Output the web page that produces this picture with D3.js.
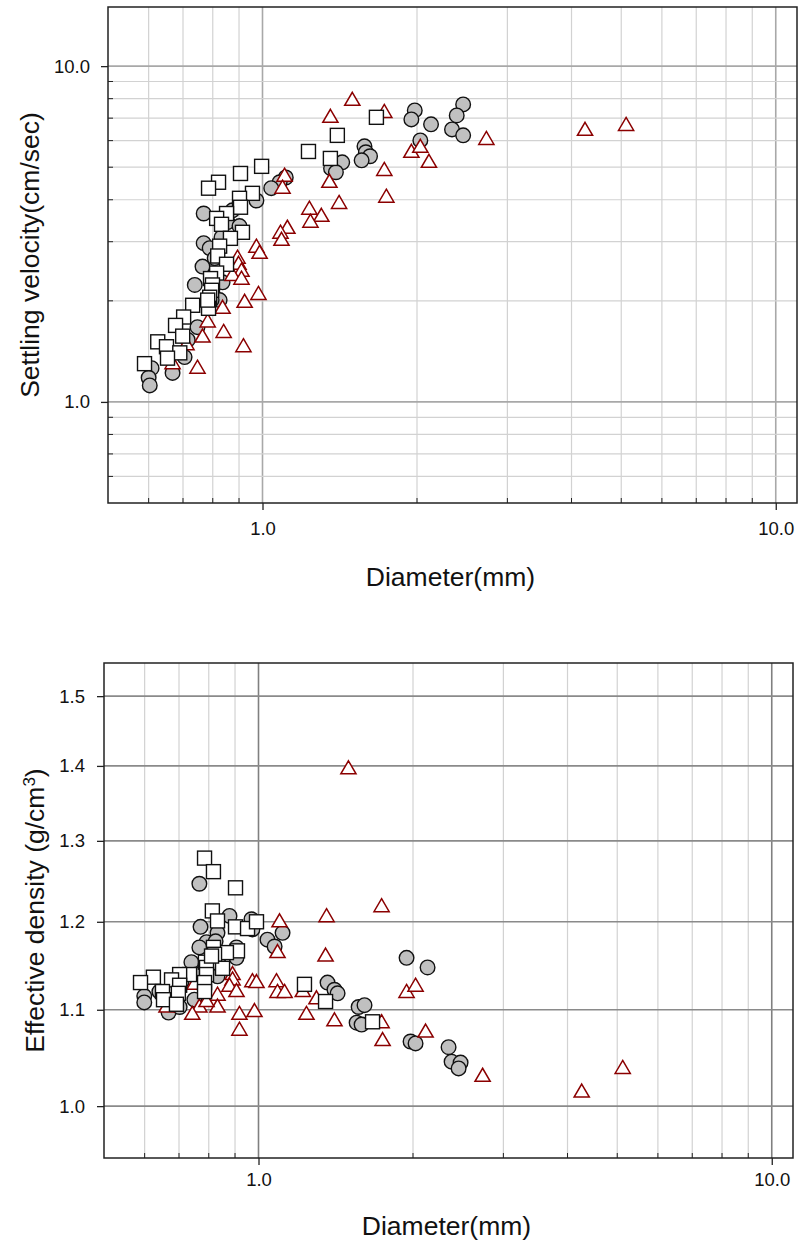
<!DOCTYPE html>
<html>
<head>
<meta charset="utf-8">
<script src="https://cdn.jsdelivr.net/npm/d3@7"></script>
<style>
  html, body { margin: 0; padding: 0; background: #fff; }
  svg { display: block; font-family: "Liberation Sans", Arial, sans-serif; }
</style>
</head>
<body>
<svg id="chart" width="799" height="1247"></svg>
<script>
// ---------- DATA ----------
// Top panel: settling velocity vs diameter
const topCircleD = [1.98,1.95,2.13,2.03,2.46,2.39,2.34,2.46,1.58,1.59,1.62,1.56,1.43,1.36,1.39,1.11,1.08,1.04,0.973,0.768,0.874,0.855,0.902,0.832,0.768,0.789,0.764,0.738,0.836,0.825,0.796,0.747,0.715,0.705,0.668,0.608,0.600,0.603,0.807];
const topCircleV = [7.38,6.94,6.71,6.01,7.69,7.13,6.48,6.22,5.77,5.54,5.39,5.24,5.17,4.96,4.83,4.66,4.51,4.33,3.98,3.64,3.72,3.43,3.34,3.09,2.97,2.87,2.53,2.23,2.27,2.01,2.01,1.67,1.53,1.36,1.22,1.26,1.18,1.12,2.68];
const topSquareD = [1.667,1.399,1.229,1.356,0.996,0.906,0.821,0.785,0.956,0.902,0.906,0.851,0.814,0.832,0.914,0.866,0.825,0.818,0.851,0.814,0.792,0.799,0.796,0.789,0.731,0.785,0.702,0.677,0.699,0.625,0.650,0.690,0.653,0.589,0.782];
const topSquareV = [7.04,6.22,5.57,5.31,5.03,4.79,4.51,4.33,4.18,4.04,3.80,3.64,3.52,3.38,3.20,3.07,2.91,2.72,2.57,2.42,2.33,2.23,2.15,2.05,1.94,1.90,1.79,1.69,1.57,1.51,1.46,1.40,1.35,1.30,2.01];
const topTriD = [1.496,1.356,1.727,1.727,1.743,1.95,2.03,2.11,2.73,4.25,5.11,1.35,1.41,1.234,1.302,1.24,1.104,1.094,1.118,1.084,1.089,0.973,0.987,0.894,0.898,0.910,0.874,0.910,0.982,0.923,0.836,0.782,0.840,0.764,0.918,0.747,0.668,0.711];
const topTriV = [7.91,7.04,7.28,4.89,4.07,5.54,5.73,5.17,6.05,6.44,6.66,4.51,3.90,3.75,3.57,3.43,4.70,4.33,3.29,3.18,3.03,2.89,2.77,2.68,2.57,2.45,2.38,2.32,2.09,1.98,1.90,1.73,1.61,1.56,1.46,1.26,1.30,1.48];

// Bottom panel: effective density vs diameter
const botCircleD = [1.943,2.135,1.978,2.023,2.346,2.378,2.476,2.454,1.114,1.041,1.075,0.969,0.973,0.878,0.832,0.767,0.771,0.792,0.767,0.825,0.906,0.906,0.740,0.832,0.708,0.757,0.599,0.599,0.668,0.702,0.750,0.641,1.363,1.406,1.426,1.567,1.609,1.553,1.588,0.839];
const botCircleR = [1.158,1.147,1.066,1.064,1.060,1.045,1.044,1.038,1.187,1.179,1.171,1.203,1.191,1.207,1.187,1.246,1.194,1.176,1.170,1.177,1.170,1.158,1.153,1.137,1.131,1.139,1.115,1.108,1.097,1.103,1.111,1.120,1.130,1.122,1.118,1.103,1.105,1.086,1.084,1.160];
const botSquareD = [0.785,0.817,0.902,0.813,0.832,0.902,0.952,0.991,0.910,0.866,0.817,0.821,0.788,0.792,0.851,0.792,0.734,0.702,0.677,0.624,0.589,0.702,0.785,0.650,0.698,0.785,0.653,0.692,1.229,1.351,1.668,0.810];
const botSquareR = [1.278,1.261,1.241,1.213,1.201,1.194,1.192,1.200,1.166,1.164,1.170,1.162,1.153,1.147,1.146,1.139,1.139,1.139,1.133,1.136,1.130,1.127,1.130,1.120,1.118,1.120,1.111,1.106,1.128,1.109,1.087,1.160];
const botTriD = [1.497,1.737,1.357,1.099,1.089,1.351,1.084,1.089,1.124,0.973,0.991,1.240,1.406,1.297,1.22,0.918,0.982,0.918,0.890,0.890,0.878,0.906,0.832,0.832,0.767,0.743,0.792,0.750,0.662,1.943,2.023,1.737,1.745,2.116,2.733,4.263,5.124];
const botTriR = [1.396,1.218,1.206,1.200,1.164,1.160,1.131,1.119,1.119,1.131,1.130,1.095,1.088,1.112,1.120,1.095,1.098,1.078,1.139,1.133,1.126,1.120,1.116,1.103,1.103,1.095,1.109,1.128,1.103,1.119,1.126,1.086,1.067,1.076,1.030,1.014,1.038];

// Axis ticks
const xDomain = [0.5, 11];
const xMajor = [1, 10];
const xMinor = [0.6,0.7,0.8,0.9,2,3,4,5,6,7,8,9];
const topYDomain = [0.5, 15];
const topYMajor = [1, 10];
const topYMinor = [0.6,0.7,0.8,0.9,2,3,4,5,6,7,8,9];
const botYDomain = [0.95, 1.55];
const botYMajor = [1.0,1.1,1.2,1.3,1.4,1.5];

const xTitle = "Diameter(mm)";
const topYTitle = "Settling velocity(cm/sec)";

// ---------- DRAW ----------
const svg = d3.select("#chart");
const fmt = d3.format(".1f");

function zip(a, b) { return a.map((v, i) => [v, b[i]]); }

function panel(cfg) {
  const g = svg.append("g").attr("transform", `translate(${cfg.left},${cfg.top})`);
  const w = cfg.width, h = cfg.height;
  const x = d3.scaleLog().domain(xDomain).range([0, w]);
  const y = d3.scaleLog().domain(cfg.yDomain).range([h, 0]);

  // gridlines
  const grid = g.append("g");
  grid.selectAll(".vmin").data(xMinor).join("line")
    .attr("x1", d => x(d)).attr("x2", d => x(d)).attr("y1", 0).attr("y2", h)
    .attr("stroke", "#d2d2d2").attr("stroke-width", 1.2);
  grid.selectAll(".vmaj").data(xMajor).join("line")
    .attr("x1", d => x(d)).attr("x2", d => x(d)).attr("y1", 0).attr("y2", h)
    .attr("stroke", cfg.majorGridColor).attr("stroke-width", 1.6);
  grid.selectAll(".hmin").data(cfg.yMinor).join("line")
    .attr("y1", d => y(d)).attr("y2", d => y(d)).attr("x1", 0).attr("x2", w)
    .attr("stroke", "#d2d2d2").attr("stroke-width", 1.2);
  grid.selectAll(".hmaj").data(cfg.yMajor).join("line")
    .attr("y1", d => y(d)).attr("y2", d => y(d)).attr("x1", 0).attr("x2", w)
    .attr("stroke", cfg.hGridColor).attr("stroke-width", 1.6);

  // minor ticks (inside)
  const tk = g.append("g").attr("stroke", "#222").attr("stroke-width", 1);
  tk.selectAll(".xm").data(xMinor).join("line")
    .attr("x1", d => x(d)).attr("x2", d => x(d)).attr("y1", h).attr("y2", h - 5);
  tk.selectAll(".ym").data(cfg.yMinor).join("line")
    .attr("y1", d => y(d)).attr("y2", d => y(d)).attr("x1", 0).attr("x2", 5);

  // major axes
  const xAxis = d3.axisBottom(x).tickValues(xMajor).tickFormat(fmt).tickSize(7).tickPadding(cfg.xPad);
  const yAxis = d3.axisLeft(y).tickValues(cfg.yMajor).tickFormat(fmt).tickSize(7).tickPadding(cfg.yPad);
  const gx = g.append("g").attr("transform", `translate(0,${h})`).call(xAxis);
  const gy = g.append("g").call(yAxis);
  [gx, gy].forEach(a => {
    a.select(".domain").remove();
    a.selectAll(".tick line").attr("stroke", "#222").attr("stroke-width", 1.3);
    a.selectAll(".tick text").attr("font-size", 18.5).attr("fill", "#111")
      .attr("font-family", '"Liberation Sans", Arial, sans-serif');
  });

  // frame
  g.append("rect").attr("x", 0).attr("y", 0).attr("width", w).attr("height", h)
    .attr("fill", "none").attr("stroke", "#222").attr("stroke-width", 1.5);

  // marks: circles, triangles, squares
  const marks = g.append("g");
  marks.selectAll("circle").data(zip(cfg.circD, cfg.circV)).join("circle")
    .attr("cx", d => x(d[0])).attr("cy", d => y(d[1])).attr("r", 7.3)
    .attr("fill", "#c0c0c0").attr("stroke", "#111").attr("stroke-width", 1.4);
  marks.selectAll("path.tri").data(zip(cfg.triD, cfg.triV)).join("path")
    .attr("class", "tri")
    .attr("d", "M0,-8L7.6,5L-7.6,5Z")
    .attr("transform", d => `translate(${x(d[0])},${y(d[1])})`)
    .attr("fill", "#fff").attr("stroke", "#8b0000").attr("stroke-width", 1.5);
  marks.selectAll("rect.sq").data(zip(cfg.sqD, cfg.sqV)).join("rect")
    .attr("class", "sq")
    .attr("x", d => x(d[0]) - 7).attr("y", d => y(d[1]) - 7).attr("width", 14).attr("height", 14)
    .attr("fill", "#fff").attr("stroke", "#111").attr("stroke-width", 1.4);

  // titles
  svg.append("text").attr("x", cfg.left + w / 2 - 2).attr("y", cfg.top + h + cfg.xTitleOff)
    .attr("text-anchor", "middle").attr("font-size", 26.5).attr("fill", "#111").text(xTitle);
  const yt = svg.append("text")
    .attr("transform", `translate(${cfg.yTitleX},${cfg.top + h / 2}) rotate(-90)`)
    .attr("text-anchor", "middle").attr("font-size", 26.5).attr("fill", "#111");
  cfg.yTitle(yt);
}

panel({
  left: 108, top: 7, width: 689, height: 496,
  yDomain: topYDomain, yMajor: topYMajor, yMinor: topYMinor,
  majorGridColor: "#a8a8a8", hGridColor: "#a8a8a8",
  xPad: 12, yPad: 11, xTitleOff: 83, yTitleX: 39,
  circD: topCircleD, circV: topCircleV,
  sqD: topSquareD, sqV: topSquareV,
  triD: topTriD, triV: topTriV,
  yTitle: t => t.text(topYTitle)
});

panel({
  left: 104, top: 663, width: 689, height: 495,
  yDomain: botYDomain, yMajor: botYMajor, yMinor: [],
  majorGridColor: "#808080", hGridColor: "#8a8a8a",
  xPad: 8, yPad: 12, xTitleOff: 77, yTitleX: 44,
  circD: botCircleD, circV: botCircleR,
  sqD: botSquareD, sqV: botSquareR,
  triD: botTriD, triV: botTriR,
  yTitle: t => {
    t.append("tspan").text("Effective density (g/cm");
    t.append("tspan").attr("baseline-shift", "super").attr("font-size", 17).text("3");
    t.append("tspan").text(")");
  }
});
</script>
</body>
</html>
